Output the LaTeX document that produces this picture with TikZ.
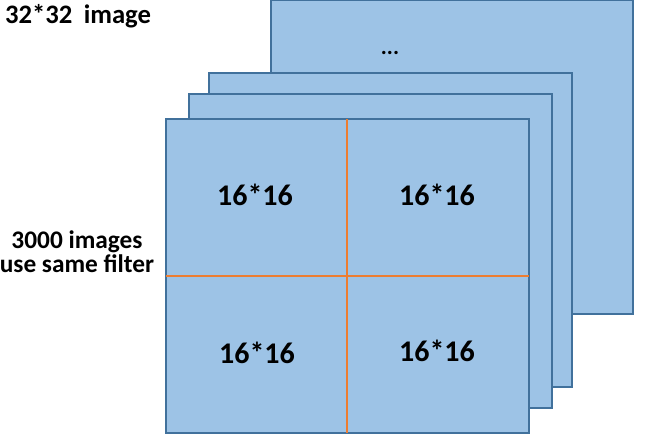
\documentclass[tikz,border=0pt]{standalone}
\usepackage{fontspec}
\setmainfont{Carlito}
\definecolor{boxfill}{HTML}{9DC3E6}
\definecolor{boxline}{HTML}{41719C}
\definecolor{divline}{HTML}{ED7D31}
\begin{document}
\begin{tikzpicture}[x=0.75pt,y=-0.75pt,
  layer/.style={fill=boxfill,draw=boxline,line width=1.1pt},
  divider/.style={draw=divline,line width=1.6pt},
  lbl/.style={font=\fontsize{22.5}{26}\selectfont\bfseries,inner sep=0pt,text=black},
  side/.style={font=\fontsize{19}{18}\selectfont\bfseries,inner sep=0pt,text=black}]
\useasboundingbox (0,0) rectangle (645,442);
\draw[layer] (271,0.7) rectangle (633,314);
\draw[layer] (209,73) rectangle (572,387);
\draw[layer] (189,94) rectangle (552,408);
\draw[layer] (166,119) rectangle (529,433);
\coordinate (vt) at (347,119);
\coordinate (vb) at (347,433);
\coordinate (hl) at (166,276);
\coordinate (hr) at (529,276);
\draw[divider] (vt) -- (vb);
\draw[divider] (hl) -- (hr);
\node[lbl,font=\fontsize{17}{20}\selectfont\bfseries,anchor=base] (dots) at (390,55) {...};
\node[lbl] (tl) at (255,195) {16*16};
\node[lbl] (tr) at (437,195) {16*16};
\node[lbl] (bl) at (257,353) {16*16};
\node[lbl] (br) at (437,351) {16*16};
\node[side,font=\fontsize{20}{24}\selectfont\bfseries] (title) at (78,16) {32*32 \hspace{4pt}image};
\node[side,align=center] (note) at (77,252) {3000 images\\use same filter};
\end{tikzpicture}
\end{document}
